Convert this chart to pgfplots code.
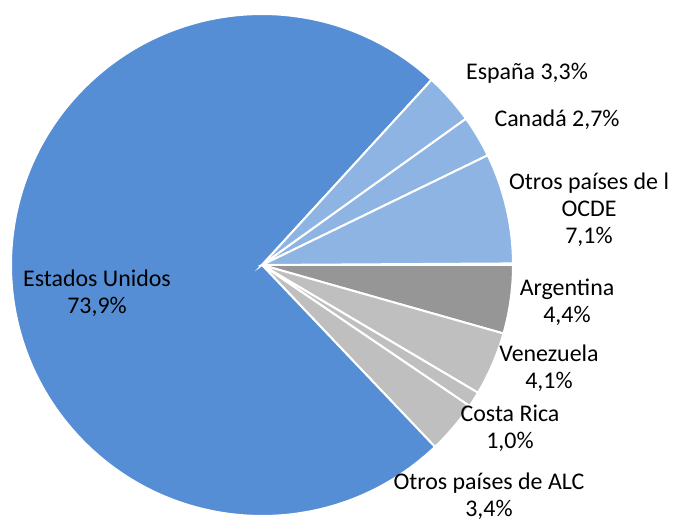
\documentclass[border=0pt]{standalone}
\usepackage{pgfplots}
\pgfplotsset{compat=1.18}
\usepackage{fontspec}
\setmainfont{Carlito}
\definecolor{usblue}{HTML}{558ED5}
\definecolor{ocdeblue}{HTML}{8EB4E3}
\definecolor{argray}{HTML}{969696}
\definecolor{alcgray}{HTML}{BFBFBF}

\begin{document}
\begin{tikzpicture}
\begin{axis}[
  scale only axis,
  width=673bp, height=523bp,
  xmin=0, xmax=673, ymin=0, ymax=523,
  hide axis,
  clip=false,
]
% shares in percent, clockwise from 3 o'clock
\def\angnow{0}
\foreach \v/\c in {4.4/argray, 4.1/alcgray, 1.0/alcgray, 3.4/alcgray,
                   73.9/usblue, 3.3/ocdeblue, 2.7/ocdeblue, 7.1/ocdeblue} {
  \pgfmathsetmacro\angend{\angnow-3.6*\v}
  \edef\temp{\noexpand\fill[\c, draw=white, line width=2bp]
    (axis cs:262,258) -- ++(\angnow:251bp) arc[start angle=\angnow, end angle=\angend, radius=251bp] -- cycle;}
  \temp
  \xdef\angnow{\angend}
}
\tikzset{lbl/.style={align=center, font=\fontsize{24}{27}\selectfont, inner sep=0pt}}
\node[lbl] at (axis cs:97,230) {Estados Unidos\\73,9\%};
\node[lbl] at (axis cs:527,450) {España 3,3\%};
\node[lbl] at (axis cs:557,403) {Canadá 2,7\%};
\node[lbl] at (axis cs:589,313) {Otros países de l\\OCDE\\7,1\%};
\node[lbl] at (axis cs:567,221) {Argentina\\4,4\%};
\node[lbl] at (axis cs:549,155) {Venezuela\\4,1\%};
\node[lbl] at (axis cs:510,95) {Costa Rica\\1,0\%};
\node[lbl] at (axis cs:489,27) {Otros países de ALC\\3,4\%};
\end{axis}
\pgfresetboundingbox
\path (0,0) rectangle (673bp,523bp);
\end{tikzpicture}
\end{document}
